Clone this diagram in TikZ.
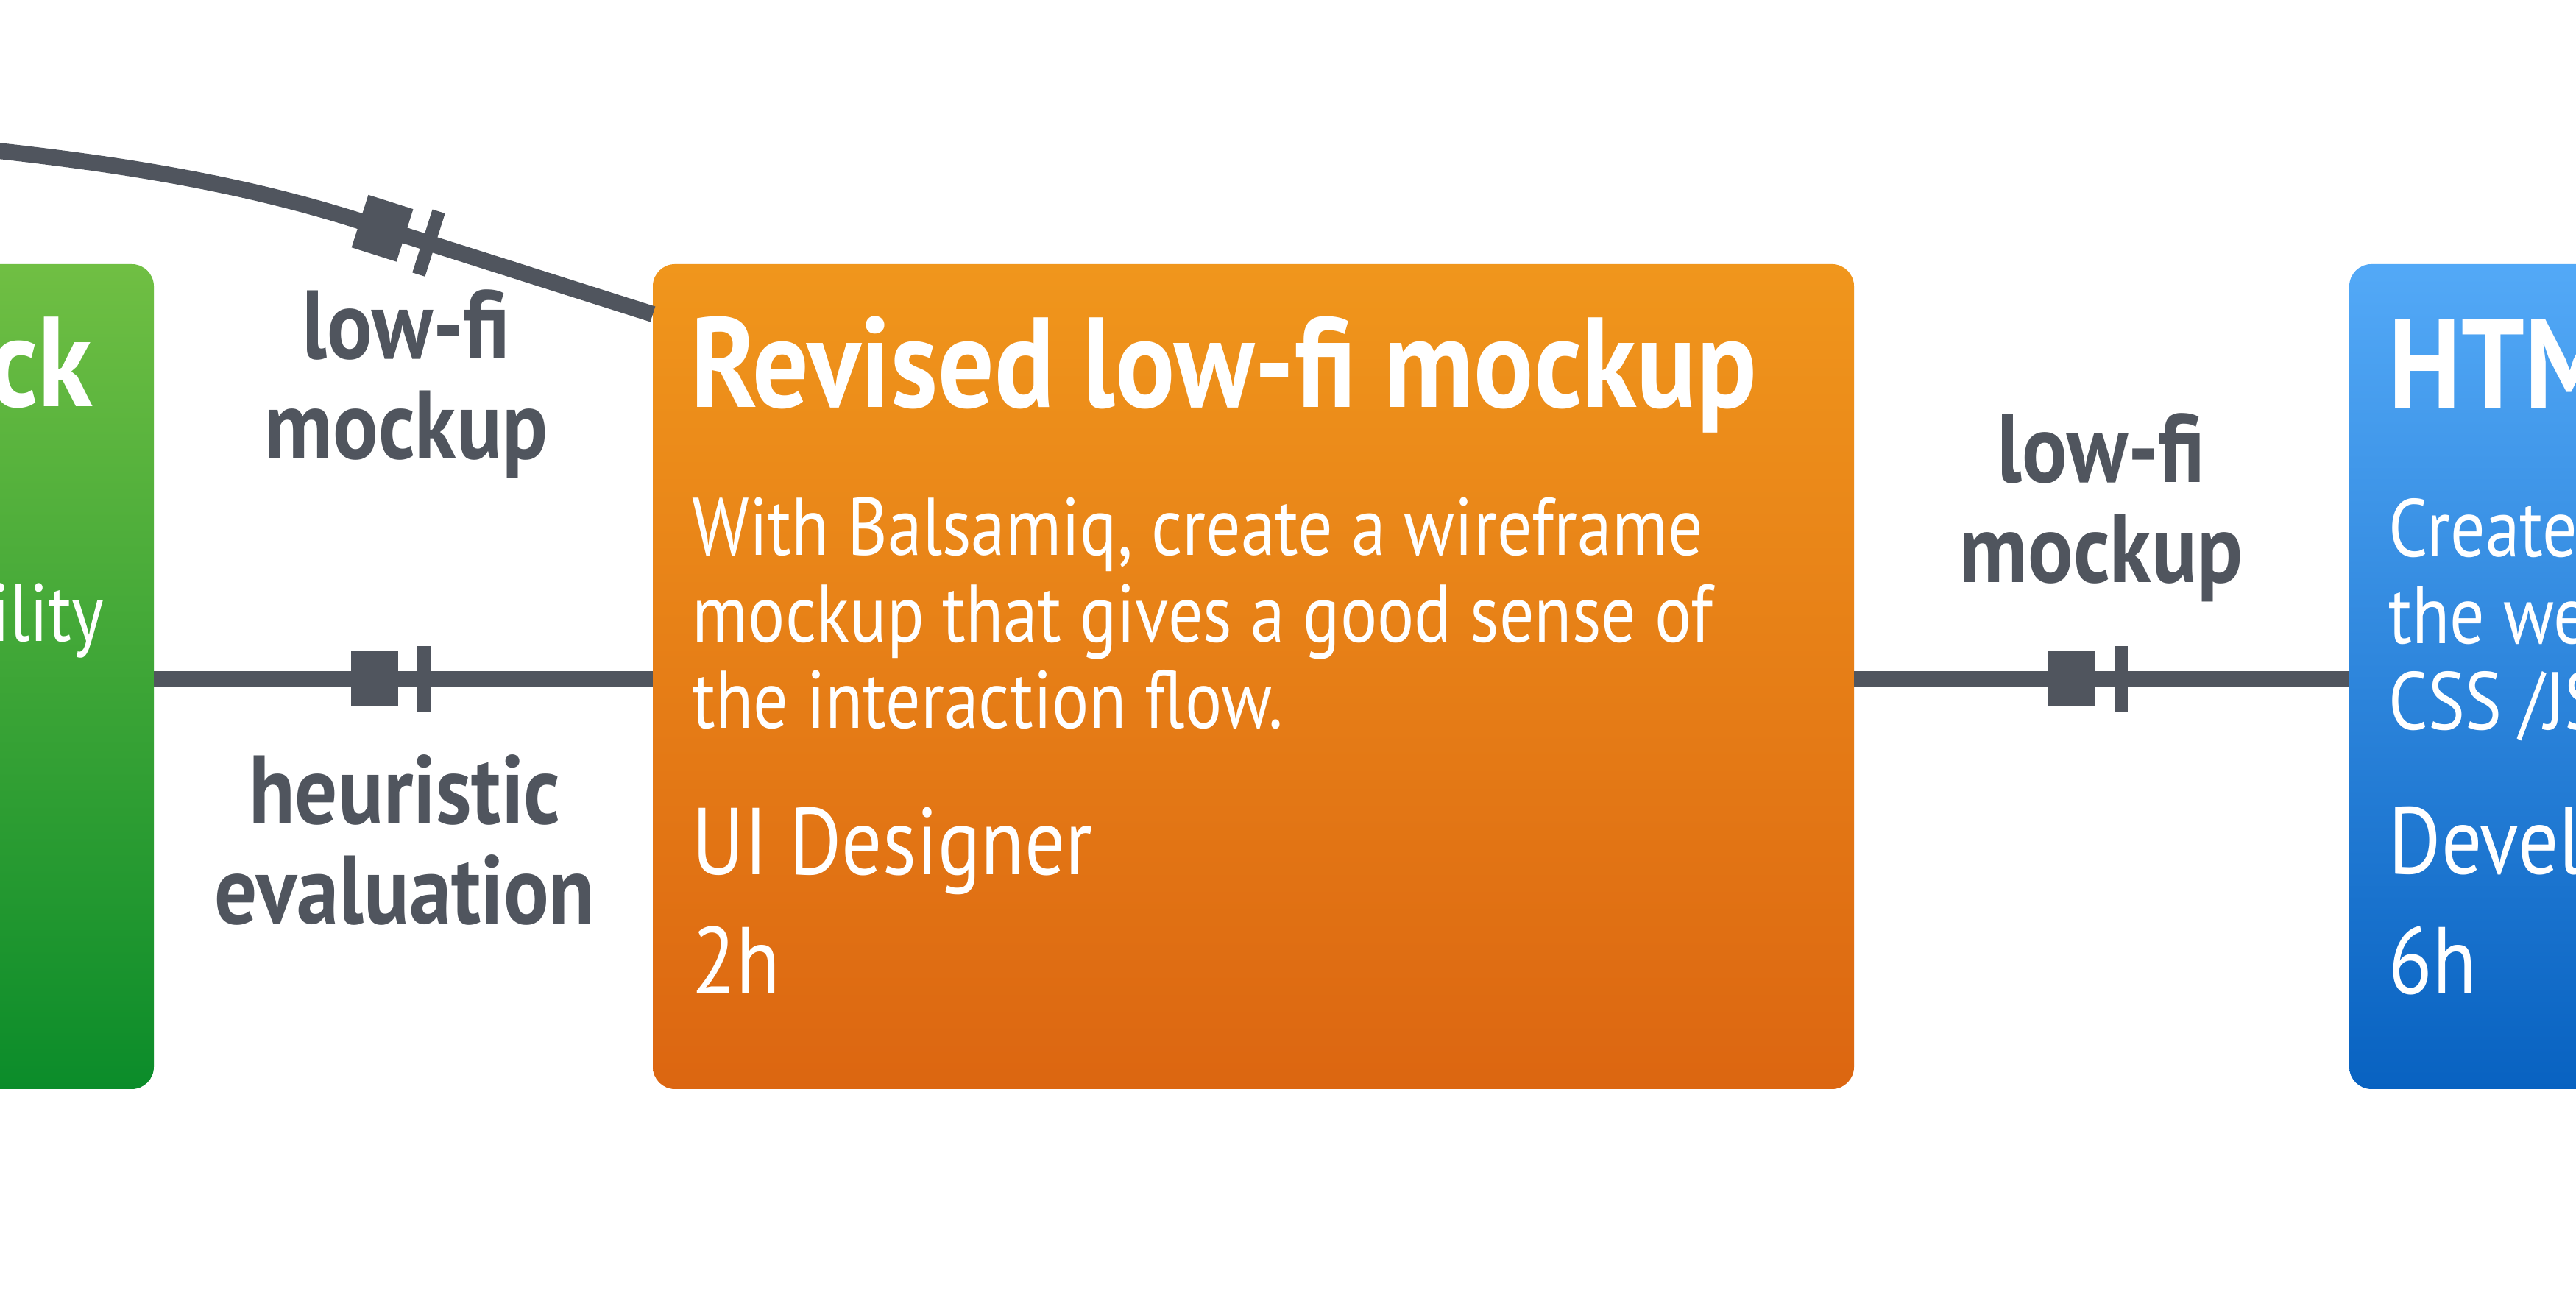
\documentclass[tikz,border=0pt]{standalone}
\usepackage{fontspec}
\setmainfont{PT Sans}[FakeStretch=0.87]
\newfontfamily\bodyfont{PT Sans}[FakeStretch=0.845]
\definecolor{lineg}{HTML}{50555E}
\definecolor{gtop}{HTML}{70BF43}
\definecolor{gbot}{HTML}{0B8C2A}
\definecolor{otop}{HTML}{F0961C}
\definecolor{obot}{HTML}{DC6611}
\definecolor{btop}{HTML}{53A9F7}
\definecolor{bbot}{HTML}{0862C1}
\newcommand\stackL[1]{\vtop{\halign{##\hfil\cr#1\crcr}}}
\newcommand\stackC[1]{\vtop{\halign{\hfil##\hfil\cr#1\crcr}}}
\begin{document}
\begin{tikzpicture}[x=1cm,y=1cm,
  conn/.style={draw=lineg, line width=0.22cm},
  sqmark/.style={fill=lineg, draw=none, inner sep=0pt, outer sep=0pt, minimum width=0.64cm, minimum height=0.75cm, sloped},
  barmark/.style={fill=lineg, draw=none, inner sep=0pt, outer sep=0pt, minimum width=0.18cm, minimum height=0.90cm, sloped},
  card/.style={rounded corners=0.3cm, inner sep=0pt, outer sep=0pt, minimum height=11.21cm, draw=none},
  ttl/.style={text=white, inner sep=0pt, font=\fontsize{49.5}{52}\selectfont\bfseries},
  bodyt/.style={text=white, inner sep=0pt, font=\bodyfont\fontsize{31.6}{33.4}\selectfont},
  rolet/.style={text=white, inner sep=0pt, font=\bodyfont\fontsize{36.7}{40}\selectfont},
  lbl/.style={text=lineg, inner sep=0pt, font=\fontsize{37.6}{38.7}\selectfont\bfseries},
]
\useasboundingbox (0,0) rectangle (35,17.68);
\clip (0,0) rectangle (35,17.68);
\fill[white] (0,0) rectangle (35,17.68);

% cards
\node[card, top color=gtop, bottom color=gbot, minimum width=5.09cm, anchor=north east] (prev) at (2.09,14.09) {};
\node[card, top color=otop, bottom color=obot, minimum width=16.32cm, anchor=north west] (rev) at (8.87,14.09) {};
\node[card, top color=btop, bottom color=bbot, minimum width=6cm, anchor=north west] (html) at (31.92,14.09) {};

% green card texts (visible parts)
\node[ttl, anchor=base east] (prevT) at (1.27,12.15) {ck};
\node[bodyt, anchor=base east] (prevB) at (1.42,8.96) {ility};

% orange card texts
\node[ttl, anchor=base west] (revT) at (9.38,12.145) {Revised low-fi mockup};
\node[bodyt, anchor=base west] (revB) at (9.40,10.13) {\stackL{With Balsamiq, create a wireframe\cr mockup that gives a good sense of\cr the interaction flow.}};
\node[rolet, anchor=base west] (revR) at (9.40,5.79) {UI Designer};
\node[rolet, anchor=base west] (revH) at (9.40,4.17) {2h};

% blue card texts (visible parts)
\node[ttl, anchor=base west] (htmlT) at (32.45,12.12) {HTM};
\node[bodyt, anchor=base west] (htmlB) at (32.45,10.11) {\stackL{Create\cr the we\cr CSS /JS}};
\node[rolet, anchor=base west] (htmlR) at (32.45,5.80) {Devel};
\node[rolet, anchor=base west] (htmlH) at (32.45,4.17) {6h};

% connectors
\coordinate (offl) at (-0.30,15.66);
\coordinate (bend) at (4.81,14.70);
\draw[conn] (offl) .. controls (1.49,15.47) and (3.19,15.21) .. (bend)
  -- node[sqmark, pos=0.095] (m0s) {} node[barmark, pos=0.25] (m0b) {} ([yshift=-0.68cm]rev.north west);
\draw[conn] ([yshift=-0.035cm]prev.east)
  -- node[sqmark, pos=0.4425] (m1s) {} node[barmark, pos=0.5406] (m1b) {} ([yshift=-0.035cm]rev.west);
\draw[conn] ([yshift=-0.035cm]rev.east)
  -- node[sqmark, pos=0.4391] (m2s) {} node[barmark, pos=0.5386] (m2b) {} ([yshift=-0.035cm]html.west);

% connector labels
\node[lbl, anchor=base] (l0) at (5.52,12.80) {\stackC{low-fi\cr mockup}};
\node[lbl, anchor=base] (l1) at (5.50,6.48) {\stackC{heuristic\cr evaluation}};
\node[lbl, anchor=base] (l2) at (28.55,11.12) {\stackC{low-fi\cr mockup}};
\end{tikzpicture}
\end{document}
